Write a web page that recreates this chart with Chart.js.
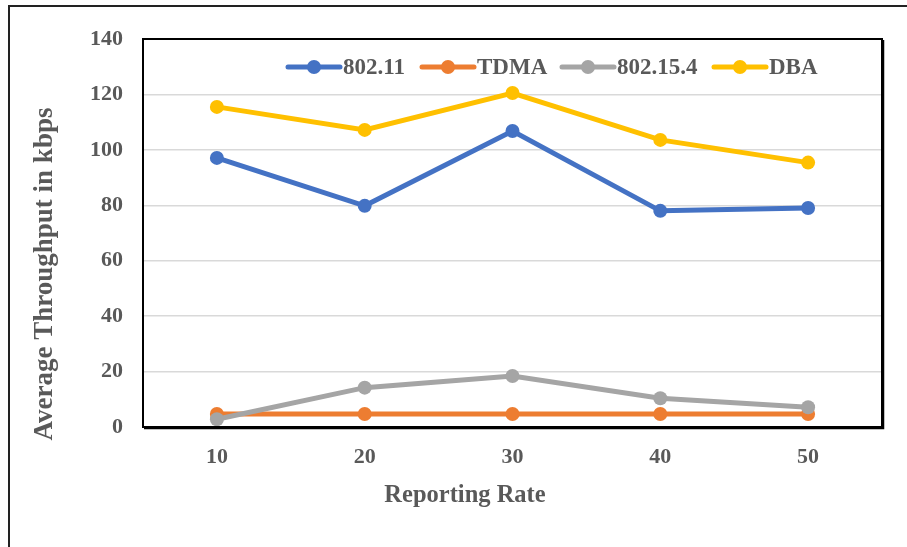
<!DOCTYPE html>
<html>
<head>
<meta charset="utf-8">
<script src="https://cdn.jsdelivr.net/npm/chart.js@4"></script>
<style>
  body { margin: 0; background: #fff; }
  #wrap { width: 907px; height: 547px; }
</style>
</head>
<body>
<div id="wrap"><canvas id="myChart" width="907" height="547"></canvas></div>
<script>
// chart data
const rates = ['10', '20', '30', '40', '50'];
const wifi = [97.1, 79.8, 106.8, 78, 79];
const tdma = [4.7, 4.7, 4.7, 4.7, 4.7];
const zigbee = [2.8, 14.2, 18.4, 10.4, 7.1];
const dba = [115.5, 107.2, 120.5, 103.6, 95.4];
const yTicks = [0, 20, 40, 60, 80, 100, 120, 140];

const textColor = '#595959';
const serif = '"Liberation Serif", "Times New Roman", serif';

// frame, axis titles and the legend inside the plot
const extras = {
  id: 'extras',
  beforeDraw(chart) {
    const ctx = chart.ctx;
    ctx.save();
    ctx.fillStyle = '#fff';
    ctx.fillRect(0, 0, chart.width, chart.height);
    ctx.strokeStyle = '#222';
    ctx.lineWidth = 2;
    ctx.strokeRect(9, 6, 920, 560);
    ctx.restore();
  },
  afterDatasetsDraw(chart) {
    const ctx = chart.ctx;
    const a = chart.chartArea;
    ctx.save();
    // plot border
    ctx.strokeStyle = '#000';
    ctx.lineWidth = 2;
    ctx.strokeRect(a.left, a.top, a.right - a.left, a.bottom - a.top);
    ctx.lineWidth = 1.5;
    ctx.beginPath();
    ctx.moveTo(a.right + 1.5, a.top + 1);
    ctx.lineTo(a.right + 1.5, a.bottom + 1.5);
    ctx.lineTo(a.left + 1, a.bottom + 1.5);
    ctx.stroke();

    // axis titles
    ctx.fillStyle = textColor;
    ctx.textAlign = 'center';
    ctx.textBaseline = 'middle';
    ctx.font = 'bold 24.5px ' + serif;
    ctx.fillText('Reporting Rate', 465, 496);
    ctx.font = 'bold 27px ' + serif;
    ctx.translate(45, 274);
    ctx.rotate(-Math.PI / 2);
    ctx.fillText('Average Throughput in kbps', 0, 0);
    ctx.restore();

    // legend
    ctx.save();
    const starts = [288, 422, 562, 714];
    const y = 67;
    chart.data.datasets.forEach((ds, i) => {
      const x = starts[i];
      ctx.strokeStyle = ds.borderColor;
      ctx.lineWidth = 5;
      ctx.lineCap = 'round';
      ctx.beginPath();
      ctx.moveTo(x, y);
      ctx.lineTo(x + 52, y);
      ctx.stroke();
      ctx.fillStyle = ds.borderColor;
      ctx.beginPath();
      ctx.arc(x + 26, y, 7, 0, Math.PI * 2);
      ctx.fill();
      ctx.fillStyle = textColor;
      ctx.font = 'bold 23px ' + serif;
      ctx.textAlign = 'left';
      ctx.textBaseline = 'middle';
      ctx.fillText(ds.label, x + 55, y + 1);
    });
    ctx.restore();
  }
};

function series(label, data, color, order) {
  return {
    label: label,
    data: data,
    borderColor: color,
    backgroundColor: color,
    borderWidth: 5,
    pointRadius: 7,
    pointBorderWidth: 0,
    pointHoverRadius: 7,
    tension: 0,
    order: order
  };
}

const myChart = document.getElementById('myChart');

let lineChart = new Chart(myChart, {
  type: 'line',
  data: {
    labels: rates,
    datasets: [
      series('802.11', wifi, '#4472C4', 4),
      series('TDMA', tdma, '#ED7D31', 3),
      series('802.15.4', zigbee, '#A5A5A5', 2),
      series('DBA', dba, '#FFC000', 1)
    ]
  },
  options: {
    responsive: false,
    animation: false,
    layout: { padding: { left: 10, top: 39, right: 25, bottom: 10 } },
    plugins: {
      legend: { display: false },
      tooltip: { enabled: false }
    },
    scales: {
      x: {
        offset: true,
        grid: { display: false },
        border: { display: false },
        ticks: {
          color: textColor,
          font: { family: serif, size: 22, weight: 'bold' },
          padding: 9
        },
        afterFit(scale) { scale.height = 110; }
      },
      y: {
        min: 0,
        max: 140,
        afterBuildTicks(scale) { scale.ticks = yTicks.map(v => ({ value: v })); },
        grid: { color: '#d9d9d9', lineWidth: 1.5, drawTicks: false },
        border: { display: false },
        ticks: {
          color: textColor,
          font: { family: serif, size: 22, weight: 'bold' },
          padding: 20
        },
        afterFit(scale) { scale.width = 133; }
      }
    }
  },
  plugins: [extras]
});
</script>
</body>
</html>
